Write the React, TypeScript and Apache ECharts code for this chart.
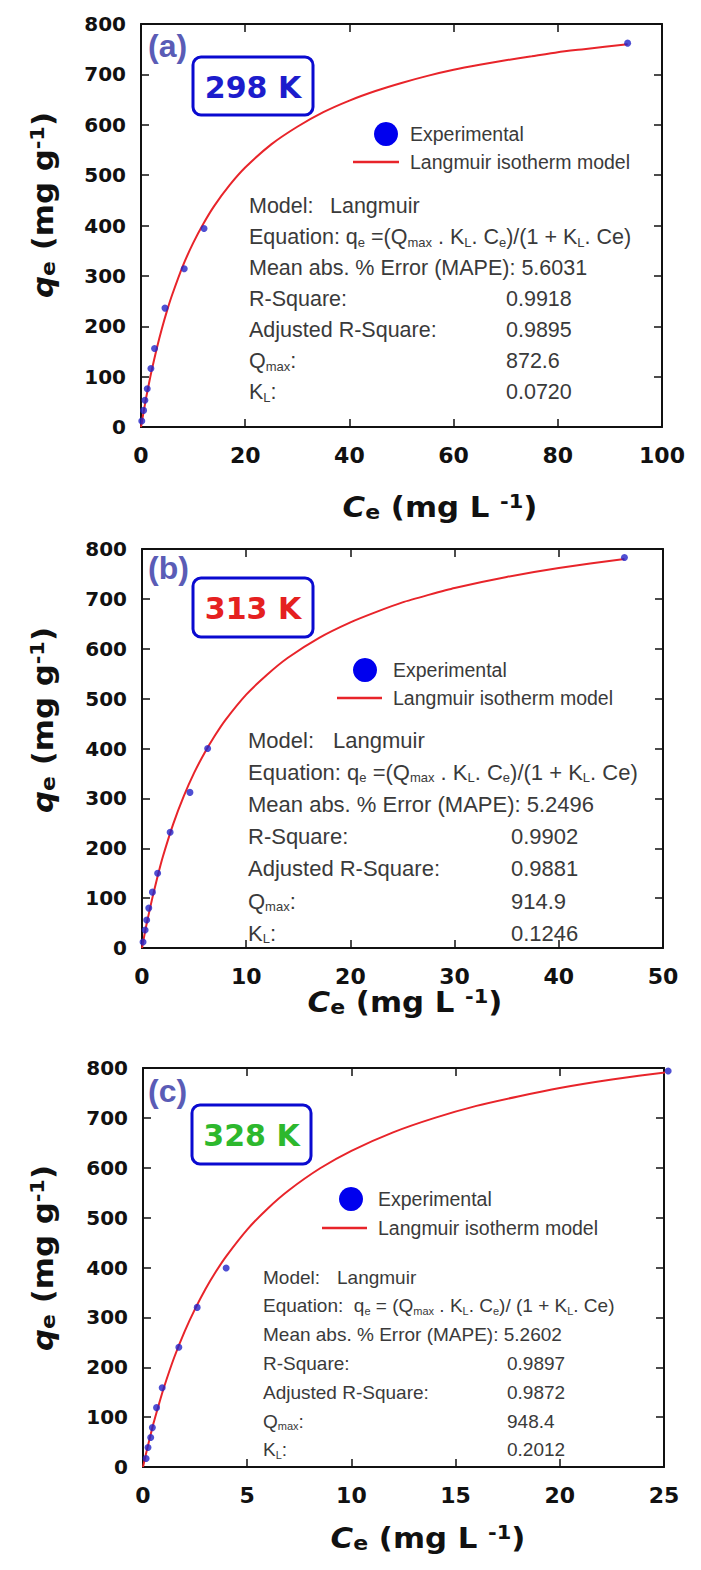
import React, { useEffect, useRef } from "react";
import * as echarts from "echarts";

// ---------- data ----------
const panelTags = ["(a)", "(b)", "(c)"];
const temperatures = ["298 K", "313 K", "328 K"];
const tempColors = ["#1c1ccc", "#e52020", "#2db82d"];
const xMax = [100, 50, 25];
const xInterval = [20, 10, 5];
const yMax = 800;
const yInterval = 100;

// experimental points (Ce, qe)
const ceA = [0.15, 0.5, 0.75, 1.2, 1.9, 2.6, 4.6, 8.3, 12.1, 93.4];
const qeA = [12, 33, 53, 76, 116, 156, 236, 314, 394, 762];
const ceB = [0.1, 0.3, 0.45, 0.65, 1.0, 1.5, 2.7, 4.6, 6.3, 46.3];
const qeB = [12, 36, 56, 80, 112, 150, 232, 312, 400, 783];
const ceC = [0.15, 0.24, 0.37, 0.45, 0.65, 0.92, 1.72, 2.6, 3.99, 25.2];
const qeC = [17, 39, 59, 79, 119, 159, 240, 320, 399, 794];

// Langmuir model curve (Ce, qe)
const fitCeA = [0, 0.25, 0.5, 1, 1.5, 2, 3, 4, 5, 6, 8, 10, 12, 14, 17, 20, 25, 30, 35, 40, 45, 50, 55, 60, 65, 70, 75, 80, 85, 93.4];
const fitQeA = [0, 15, 30, 59, 85, 110, 155, 195, 231, 263, 319, 365, 404, 438, 480, 515, 561, 596, 625, 648, 667, 683, 697, 709, 719, 728, 736, 744, 750, 760];
const fitCeB = [0, 0.25, 0.5, 1, 1.5, 2, 3, 4, 5, 6, 7, 8, 10, 12, 14, 17, 20, 22.5, 25, 27.5, 30, 35, 40, 46.3];
const fitQeB = [0, 28, 54, 101, 144, 183, 249, 304, 351, 391, 426, 457, 508, 548, 582, 622, 653, 674, 693, 708, 722, 744, 762, 780];
const fitCeC = [0, 0.125, 0.25, 0.5, 0.75, 1, 1.5, 2, 2.5, 3, 3.5, 4, 5, 6, 7, 8.5, 10, 12, 14, 16, 18, 20, 22.5, 25.2];
const fitQeC = [0, 23, 45, 87, 124, 159, 220, 272, 317, 357, 392, 423, 476, 519, 555, 599, 634, 671, 700, 724, 743, 760, 777, 792];

// fit statistics
const mape = ["5.6031", "5.2496", "5.2602"];
const rSquare = ["0.9918", "0.9902", "0.9897"];
const adjRSquare = ["0.9895", "0.9881", "0.9872"];
const qMax = ["872.6", "914.9", "948.4"];
const kL = ["0.0720", "0.1246", "0.2012"];

const legendNames = ["Experimental", "Langmuir isotherm model"];

// ---------- layout ----------
const layout = [
  {
    grid: { left: 141, top: 24, width: 521, height: 403 },
    tag: { x: 148, y: 46 },
    box: { x: 193, y: 57, w: 120, h: 58 },
    legend: { dotX: 386, dotY: 134, lx1: 353, lx2: 399, lineY: 162, textX: 410 },
    block: { x: 249, valX: 506, langX: 330, y0: 206, dy: 31, fs: 21.5, eqSp: "" },
    yName: { x: 43, y: 205 },
    xName: { x: 440, y: 507 },
  },
  {
    grid: { left: 142, top: 549, width: 521, height: 399 },
    tag: { x: 148, y: 568 },
    box: { x: 193, y: 578, w: 120, h: 59 },
    legend: { dotX: 365, dotY: 670, lx1: 337, lx2: 382, lineY: 698, textX: 393 },
    block: { x: 248, valX: 511, langX: 333, y0: 740, dy: 32.2, fs: 22, eqSp: "" },
    yName: { x: 43, y: 720 },
    xName: { x: 405, y: 1002 },
  },
  {
    grid: { left: 143, top: 1068, width: 521, height: 399 },
    tag: { x: 148, y: 1091 },
    box: { x: 192, y: 1105, w: 119, h: 59 },
    legend: { dotX: 351, dotY: 1199, lx1: 322, lx2: 367, lineY: 1228, textX: 378 },
    block: { x: 263, valX: 507, langX: 337, y0: 1277, dy: 28.8, fs: 19, eqSp: " " },
    yName: { x: 43, y: 1258 },
    xName: { x: 428, y: 1538 },
  },
];

const ces = [ceA, ceB, ceC];
const qes = [qeA, qeB, qeC];
const fitCes = [fitCeA, fitCeB, fitCeC];
const fitQes = [fitQeA, fitQeB, fitQeC];

const AXIS_COLOR = "#111";
const TEXT_GRAY = "#3a3a3a";
const RED = "#e8242a";
const DOT_BLUE = "#2323c8";

function buildOption() {
  const grid: any[] = [];
  const xAxis: any[] = [];
  const yAxis: any[] = [];
  const series: any[] = [];
  const graphic: any[] = [];

  layout.forEach((L, i) => {
    grid.push({ ...L.grid, containLabel: false });
    const axisLine = { show: true, onZero: false, lineStyle: { color: AXIS_COLOR, width: 2 } };
    const axisTick = { show: true, inside: true, length: 8, lineStyle: { color: AXIS_COLOR, width: 1.5 } };
    ["bottom", "top"].forEach((pos) => {
      xAxis.push({
        gridIndex: i,
        type: "value",
        position: pos,
        min: 0,
        max: xMax[i],
        interval: xInterval[i],
        axisLine,
        axisTick,
        splitLine: { show: false },
        axisLabel: {
          show: pos === "bottom",
          color: AXIS_COLOR,
          fontFamily: "DejaVu Sans",
          fontWeight: "bold",
          fontSize: 22,
          margin: 17,
        },
      });
    });
    ["left", "right"].forEach((pos) => {
      yAxis.push({
        gridIndex: i,
        type: "value",
        position: pos,
        min: 0,
        max: yMax,
        interval: yInterval,
        axisLine,
        axisTick,
        splitLine: { show: false },
        axisLabel: {
          show: pos === "left",
          color: AXIS_COLOR,
          fontFamily: "DejaVu Sans",
          fontWeight: "bold",
          fontSize: 20,
          margin: 15,
        },
      });
    });

    series.push({
      type: "line",
      xAxisIndex: 2 * i,
      yAxisIndex: 2 * i,
      data: fitCes[i].map((c, k) => [c, fitQes[i][k]]),
      smooth: 0.2,
      showSymbol: false,
      clip: false,
      lineStyle: { color: RED, width: 2 },
      z: 2,
    });
    series.push({
      type: "scatter",
      xAxisIndex: 2 * i,
      yAxisIndex: 2 * i,
      data: ces[i].map((c, k) => [c, qes[i][k]]),
      symbolSize: 7,
      clip: false,
      itemStyle: { color: DOT_BLUE },
      z: 3,
    });

    // panel tag
    graphic.push({
      type: "text",
      x: L.tag.x,
      y: L.tag.y,
      style: {
        text: panelTags[i],
        fill: "#5a5cb6",
        fontFamily: "Liberation Sans",
        fontWeight: "bold",
        fontSize: 32,
        align: "left",
        verticalAlign: "middle",
      },
    });
    // temperature box
    graphic.push({
      type: "rect",
      shape: { x: L.box.x, y: L.box.y, width: L.box.w, height: L.box.h, r: 8 },
      style: { fill: "none", stroke: "#0a0ad0", lineWidth: 3 },
    });
    graphic.push({
      type: "text",
      x: L.box.x + L.box.w / 2,
      y: L.box.y + L.box.h / 2 + 1,
      style: {
        text: temperatures[i],
        fill: tempColors[i],
        fontFamily: "DejaVu Sans",
        fontWeight: "bold",
        fontSize: 30,
        align: "center",
        verticalAlign: "middle",
      },
    });

    // legend
    const lg = L.legend;
    graphic.push({ type: "circle", shape: { cx: lg.dotX, cy: lg.dotY, r: 12 }, style: { fill: "#0000ee" } });
    graphic.push({
      type: "line",
      shape: { x1: lg.lx1, y1: lg.lineY, x2: lg.lx2, y2: lg.lineY },
      style: { stroke: RED, lineWidth: 2.5 },
    });
    [lg.dotY, lg.lineY].forEach((yy, k) => {
      graphic.push({
        type: "text",
        x: lg.textX,
        y: yy,
        style: {
          text: legendNames[k],
          fill: TEXT_GRAY,
          fontFamily: "Liberation Sans",
          fontSize: 19.5,
          align: "left",
          verticalAlign: "middle",
        },
      });
    });

    // statistics block
    const B = L.block;
    const subStyle = {
      fontSize: Math.round(B.fs * 0.6),
      fontFamily: "Liberation Sans",
      fill: TEXT_GRAY,
      lineHeight: 8,
      verticalAlign: "bottom",
    };
    const rowText = (x: number, y: number, text: string) => ({
      type: "text",
      x,
      y,
      style: {
        text,
        fill: TEXT_GRAY,
        fontFamily: "Liberation Sans",
        fontSize: B.fs,
        lineHeight: B.fs + 2,
        align: "left",
        verticalAlign: "middle",
        rich: { s: subStyle },
      },
    });
    const sp = B.eqSp;
    const rows: [string, string | null][] = [
      ["Model:", null],
      [`Equation:${sp} q{s|e} =${sp}(Q{s|max} . K{s|L}. C{s|e})/${sp}(1 + K{s|L}. Ce)`, null],
      [`Mean abs. % Error (MAPE): ${mape[i]}`, null],
      ["R-Square:", rSquare[i]],
      ["Adjusted R-Square:", adjRSquare[i]],
      ["Q{s|max}:", qMax[i]],
      ["K{s|L}:", kL[i]],
    ];
    rows.forEach(([label, val], r) => {
      const y = B.y0 + r * B.dy;
      graphic.push(rowText(B.x, y, label));
      if (val) graphic.push(rowText(B.valX, y, val));
    });
    graphic.push(rowText(B.langX, B.y0, "Langmuir"));

    // axis names
    const nameRich = {
      it: { fontStyle: "italic", fontWeight: "bold", fontFamily: "DejaVu Sans", fontSize: 28, fill: AXIS_COLOR },
      sub: {
        fontWeight: "bold",
        fontFamily: "DejaVu Sans",
        fontSize: 20,
        fill: AXIS_COLOR,
        lineHeight: 10,
        verticalAlign: "bottom",
      },
      sup: {
        fontWeight: "bold",
        fontFamily: "DejaVu Sans",
        fontSize: 19,
        fill: AXIS_COLOR,
        lineHeight: 12,
        verticalAlign: "top",
      },
    };
    const nameStyle = (text: string) => ({
      text,
      fill: AXIS_COLOR,
      fontFamily: "DejaVu Sans",
      fontWeight: "bold",
      fontSize: 28,
      lineHeight: 30,
      align: "center",
      verticalAlign: "middle",
      rich: nameRich,
    });
    graphic.push({
      type: "text",
      x: L.yName.x,
      y: L.yName.y,
      rotation: Math.PI / 2,
      scaleX: 1.1,
      style: nameStyle("{it|q}{sub|e} (mg g{sup|-1})"),
    });
    graphic.push({
      type: "text",
      x: L.xName.x,
      y: L.xName.y,
      scaleX: 1.1,
      style: nameStyle("{it|C}{sub|e} (mg L {sup|-1})"),
    });
  });

  return {
    animation: false,
    backgroundColor: "#ffffff",
    grid,
    xAxis,
    yAxis,
    series,
    graphic: { elements: graphic.map((g) => ({ z: 10, ...g })) },
  };
}

export default function App() {
  const ref = useRef<HTMLDivElement>(null);
  useEffect(() => {
    if (!ref.current) return;
    const chart = echarts.init(ref.current, null, { renderer: "svg" });
    chart.setOption(buildOption() as any);
    return () => chart.dispose();
  }, []);
  return (
    <div
      ref={ref}
      style={{ position: "absolute", left: 0, top: 0, width: 701, height: 1570, background: "#fff" }}
    />
  );
}
